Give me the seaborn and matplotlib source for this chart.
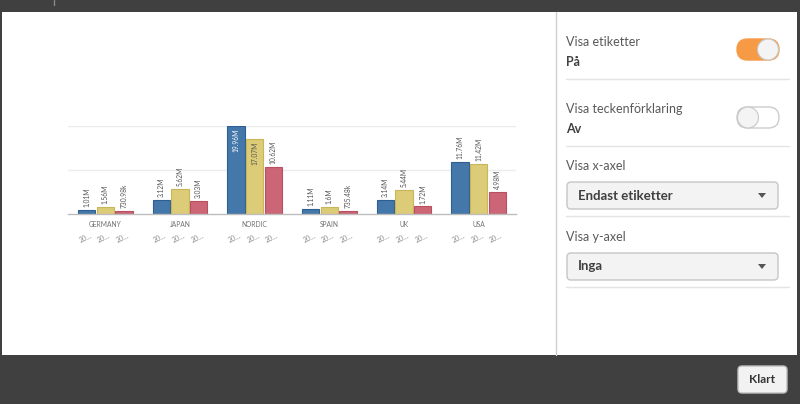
import matplotlib
matplotlib.use("Agg")
import matplotlib.pyplot as plt
import seaborn as sns
import pandas as pd
from matplotlib.patches import Rectangle, FancyBboxPatch, Circle, Polygon

# ---------------- data ----------------
countries = ["GERMANY", "JAPAN", "NORDIC", "SPAIN", "UK", "USA"]
years = ["2012", "2013", "2014"]
values_2012 = [1.01e6, 3.12e6, 19.96e6, 1.11e6, 3.14e6, 11.76e6]
values_2013 = [1.56e6, 5.62e6, 17.07e6, 1.60e6, 5.44e6, 11.42e6]
values_2014 = [0.73098e6, 3.03e6, 10.62e6, 0.73548e6, 1.72e6, 4.98e6]
labels_2012 = ["1.01M", "3.12M", "19.96M", "1.11M", "3.14M", "11.76M"]
labels_2013 = ["1.56M", "5.62M", "17.07M", "1.6M", "5.44M", "11.42M"]
labels_2014 = ["730.98k", "3.03M", "10.62M", "735.48k", "1.72M", "4.98M"]
tick_short = "20…"

sns.set_theme(style="white")
plt.rcParams['font.family'] = ['Lato', 'DejaVu Sans']

W, H = 800, 404
fig = plt.figure(figsize=(8, 4.04), dpi=100)
fig.patch.set_facecolor("#404040")

# ---------------- UI overlay (pixel coordinates) ----------------
ui = fig.add_axes([0, 0, 1, 1], zorder=0)
ui.set_xlim(0, W)
ui.set_ylim(H, 0)
ui.axis("off")

ui.add_patch(Rectangle((2, 12), 795, 343, facecolor="white", edgecolor="none"))
ui.plot([556, 556], [12, 355], color="#cfcfcf", lw=1)
ui.plot([54, 54], [0, 5], color="#8a8a8a", lw=1)

txt_col = "#595959"
val_col = "#404040"
for y in [79, 146, 216, 287]:
    ui.plot([566, 789], [y, y], color="#e4e4e4", lw=1)

fs = 9
ui.text(566, 42, "Visa etiketter", fontsize=fs, color=txt_col, va="center")
ui.text(566, 62, "På", fontsize=fs, color=val_col, va="center", fontweight="bold")
ui.text(566, 109, "Visa teckenförklaring", fontsize=fs, color=txt_col, va="center")
ui.text(566, 129, "Av", fontsize=fs, color=val_col, va="center", fontweight="bold")
ui.text(566, 166, "Visa x-axel", fontsize=fs, color=txt_col, va="center")
ui.text(566, 237, "Visa y-axel", fontsize=fs, color=txt_col, va="center")

# toggles
ui.add_patch(FancyBboxPatch((737, 39), 42, 21, boxstyle="round,pad=0,rounding_size=10.5",
                            facecolor="#f79a45", edgecolor="#f79a45", lw=1))
ui.add_patch(Circle((768, 49.5), 10.5, facecolor="#f4f4f4", edgecolor="#c8c8c8", lw=0.8))
ui.add_patch(FancyBboxPatch((737, 107), 42, 21, boxstyle="round,pad=0,rounding_size=10.5",
                            facecolor="white", edgecolor="#cccccc", lw=1))
ui.add_patch(Circle((748, 117.5), 10.5, facecolor="#f4f4f4", edgecolor="#c8c8c8", lw=0.8))

# dropdowns
for (y0, label) in [(182, "Endast etiketter"), (253, "Inga")]:
    ui.add_patch(FancyBboxPatch((567, y0), 211, 27, boxstyle="round,pad=0,rounding_size=4",
                                facecolor="#f3f3f3", edgecolor="#c6c6c6", lw=1))
    ui.text(578, y0 + 13.5, label, fontsize=9.5, color=val_col, va="center", fontweight="bold")
    ui.add_patch(Polygon([[758, y0 + 11], [766, y0 + 11], [762, y0 + 16]], closed=True,
                         facecolor="#555555", edgecolor="none"))

# done button
ui.add_patch(FancyBboxPatch((738, 366), 49, 27, boxstyle="round,pad=0,rounding_size=4",
                            facecolor="#f2f2f2", edgecolor="#bdbdbd", lw=1))
ui.text(762.5, 379.5, "Klart", fontsize=8.6, color="#333333", va="center", ha="center",
        fontweight="bold")

# ---------------- chart ----------------
rows = []
for vals, labs, yr in [(values_2012, labels_2012, years[0]),
                       (values_2013, labels_2013, years[1]),
                       (values_2014, labels_2014, years[2])]:
    for c, v, l in zip(countries, vals, labs):
        rows.append({"country": c, "year": yr, "value": v, "label": l})
df = pd.DataFrame(rows)

x0, y_base, y_top, x1 = 68, 214, 126, 516
ax = fig.add_axes([x0 / W, (H - y_base) / H, (x1 - x0) / W, (y_base - y_top) / H], zorder=2)
ax.patch.set_alpha(0)

palette = ["#4477aa", "#ddcc77", "#cc6677"]
edges = ["#2f5f92", "#c9b65a", "#b8505f"]
sns.barplot(data=df, x="country", y="value", hue="year", order=countries, hue_order=years,
            palette=palette, width=0.75, gap=0.06, ax=ax, legend=False, saturation=1)

ax.set_xlim(-0.5, len(countries) - 0.5)
ax.set_ylim(0, 20e6)
ax.set_yticks([10e6, 20e6])
ax.yaxis.grid(True, color="#ececec", lw=1)
ax.set_axisbelow(True)
ax.tick_params(axis="y", length=0, labelleft=False)
ax.set_xlabel("")
ax.set_ylabel("")
for s in ["top", "right", "left"]:
    ax.spines[s].set_visible(False)
ax.spines["bottom"].set_color("#bdbdbd")
ax.spines["bottom"].set_linewidth(1)
ax.tick_params(axis="x", length=0, labelsize=4.8, labelcolor="#707070", pad=5)

all_labels = [labels_2012, labels_2013, labels_2014]
for ci, cont in enumerate(ax.containers):
    for bi, bar in enumerate(cont):
        bar.set_edgecolor(edges[ci])
        bar.set_linewidth(0.8)
        h = bar.get_height()
        cx = bar.get_x() + bar.get_width() / 2
        lab = all_labels[ci][bi]
        if h > 16e6:
            col = "white" if ci == 0 else "#555555"
            ax.annotate(lab, (cx, h), xytext=(0, -2), textcoords="offset points",
                        rotation=90, ha="center", va="top", fontsize=4.8, color=col)
        else:
            ax.annotate(lab, (cx, h), xytext=(0, 2), textcoords="offset points",
                        rotation=90, ha="center", va="bottom", fontsize=4.8, color="#555555",
                        annotation_clip=False)
        ax.annotate(tick_short, (cx, 0), xytext=(-1, -17), textcoords="offset points",
                    rotation=25, ha="center", va="center", fontsize=5, color="#8f8f8f",
                    annotation_clip=False)

fig.savefig("out.png", dpi=100, facecolor=fig.get_facecolor())
